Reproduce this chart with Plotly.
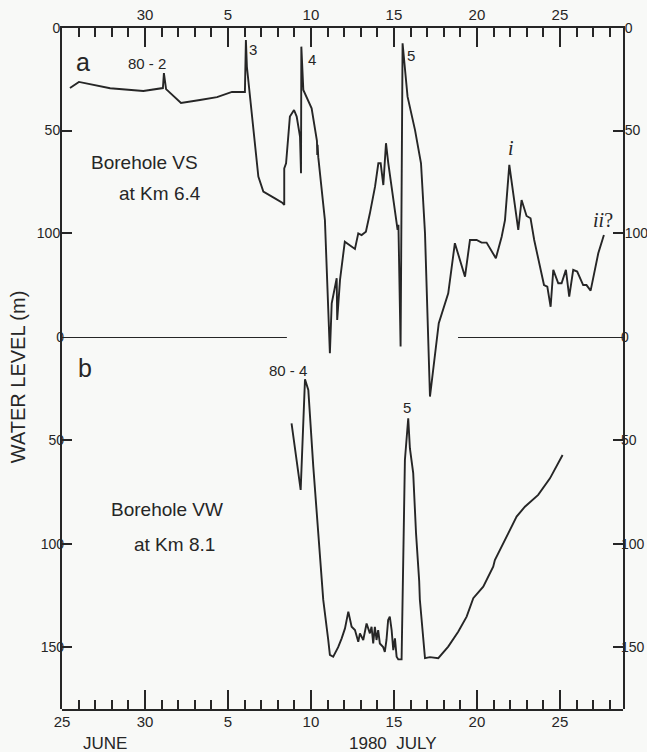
import plotly.graph_objects as go

# Time axis: days after 00h 25 June 1980
# Borehole VS (km 6.4) water level below surface, m
vs_day = [0.48, 1.02, 2.9, 4.9, 6.08, 6.14, 6.27, 7.17, 8.31, 9.34, 10.24, 11.02,
          11.08, 11.14, 11.83, 12.13, 12.83, 13.27, 13.39, 13.39, 13.5, 13.73, 13.98,
          14.14, 14.34, 14.4, 14.42, 14.54, 15.04, 15.24, 15.36, 15.38, 15.40, 15.44,
          15.84, 16.14, 16.25, 16.55, 16.58, 16.75, 17.04, 17.65, 17.85, 18.05, 18.31,
          18.55, 18.86, 19.06, 19.2, 19.36, 19.52, 19.66, 20.16, 20.22, 20.27, 20.32,
          20.38, 20.40, 20.52, 20.82, 21.27, 21.63, 21.87, 22.17, 22.7, 23.07, 23.27,
          23.67, 24.28, 24.58, 24.98, 25.28, 25.58, 26.14, 26.49, 26.69, 26.95, 27.49,
          27.69, 27.99, 28.23, 28.45, 28.8, 29.04, 29.24, 29.44, 29.6, 29.9, 30.1,
          30.36, 30.56, 30.8, 31.04, 31.4, 31.6, 31.85, 32.31, 32.65]
vs_level = [29.3, 26.3, 29.4, 30.7, 29.3, 22.0, 29.8, 36.6, 35.1, 33.7, 31.2, 31.2,
            5.9, 18.9, 72.5, 79.8, 83.1, 85.2, 86.3, 68.5, 66.0, 43.2, 40.0,
            43.2, 53.0, 70.9, 9.1, 30.2, 39.2, 49.8, 55.0, 62.0, 57.0, 63.0,
            93.7, 158.7, 134.3, 122.1, 142.4, 122.9, 104.2, 107.8, 100.2, 101.0, 99.4,
            90.4, 77.4, 66.0, 66.0, 76.6, 56.2, 66.0, 95.3, 98.5, 96.0, 124.5,
            142.4, 155.4, 7.5, 33.5, 49.8, 66.0, 100.0, 179.8, 144.0, 134.3, 129.4,
            105.0, 121.3, 103.4, 103.4, 104.7, 104.7, 112.3, 101.8, 93.7, 66.8, 98.5,
            83.9, 91.7, 92.8, 103.4, 116.4, 125.4, 126.2, 136.0, 118.0, 124.5, 124.5,
            118.0, 131.0, 118.0, 118.8, 125.4, 125.4, 128.1, 109.9, 101.0]

# Borehole VW (km 8.1) water level below surface, m
vw_day = [13.83, 14.38, 14.64, 14.84, 15.14, 15.54, 15.74, 16.04, 16.14, 16.34, 16.64,
          16.85, 17.05, 17.25, 17.45, 17.65, 17.85, 17.95, 18.15, 18.35, 18.55, 18.65,
          18.75, 18.85, 18.95, 19.05, 19.15, 19.35, 19.45, 19.55, 19.65, 19.75, 19.86,
          19.96, 20.06, 20.16, 20.26, 20.46, 20.66, 20.86, 20.96, 21.16, 21.33, 21.52,
          21.56, 21.87, 22.17, 22.67, 23.27, 23.87, 24.38, 24.78, 25.38, 25.98, 26.08,
          27.39, 27.89, 28.69, 29.4, 30.16]
vw_level = [41.8, 74.0, 20.5, 25.6, 62.7, 107.9, 127.2, 146.6, 153.8, 154.7, 150.1,
            145.8, 141.0, 132.9, 140.2, 141.8, 147.5, 143.4, 146.6, 138.6, 143.4, 140.2,
            148.3, 140.2, 146.6, 141.8, 148.3, 150.0, 152.4, 146.6, 136.9, 135.3, 141.8,
            151.5, 145.8, 154.7, 156.0, 156.0, 59.5, 39.3, 53.8, 65.9, 95.0, 118.0,
            127.0, 155.4, 154.9, 155.4, 149.8, 142.6, 135.3, 126.4, 120.8, 111.1, 107.9,
            86.9, 82.1, 76.4, 68.4, 57.1]

# Date ticks
major_days = [0, 5, 10, 15, 20, 25, 30]
major_labels = ["25", "30", "5", "10", "15", "20", "25"]
x_range = [0, 33.8]

# Water-level ticks for each panel
vs_ticks = [0, 50, 100]
vw_ticks = [0, 50, 100, 150]
vs_range = [332.2, 0]
vw_range = [180, 0]

INK = "#262626"
BG = "#f8f9f7"
SANS = "Liberation Sans, Arial, sans-serif"
XTICK_FONT = dict(family=SANS, size=15, color=INK)
YTICK_FONT = dict(family=SANS, size=14, color=INK)

fig = go.Figure()
fig.add_trace(go.Scatter(x=vs_day, y=vs_level, mode="lines", xaxis="x", yaxis="y",
                         line=dict(color=INK, width=1.9), hoverinfo="skip", showlegend=False))
fig.add_trace(go.Scatter(x=vw_day, y=vw_level, mode="lines", xaxis="x", yaxis="y2",
                         line=dict(color=INK, width=1.9), hoverinfo="skip", showlegend=False))

xcommon = dict(range=x_range, showgrid=False, zeroline=False, showline=True,
               linecolor=INK, linewidth=2, ticks="inside", ticklen=19, tickwidth=2,
               tickcolor=INK, tickfont=XTICK_FONT, automargin=False,
               minor=dict(dtick=1, tick0=0, ticks="inside", ticklen=9, tickwidth=1.6,
                          tickcolor=INK, showgrid=False))

ycommon = dict(showgrid=False, zeroline=False, ticks="inside", ticklen=10, tickwidth=2,
               tickcolor=INK, tickfont=YTICK_FONT, linecolor=INK, linewidth=2,
               automargin=False, ticklabelstandoff=-3)

fig.update_layout(
    width=647, height=752,
    margin=dict(l=62, r=24, t=28, b=43, autoexpand=False),
    paper_bgcolor=BG, plot_bgcolor="rgba(0,0,0,0)",
    showlegend=False,
    xaxis=dict(**xcommon, side="bottom", tickvals=major_days, ticktext=major_labels,
               anchor="y2", ticklabelstandoff=-2),
    xaxis2=dict(**xcommon, side="top", overlaying="x", anchor="y",
                tickvals=major_days[1:], ticktext=major_labels[1:]),
    yaxis=dict(**ycommon, domain=[0, 1], range=vs_range, tickvals=vs_ticks,
               showline=True, side="left", anchor="x"),
    yaxis3=dict(**ycommon, overlaying="y", range=vs_range, tickvals=vs_ticks,
                showline=True, side="right", anchor="x"),
    yaxis2=dict(**ycommon, domain=[0, 372 / 681], range=vw_range, tickvals=vw_ticks,
                showline=False, side="left", anchor="x"),
    yaxis4=dict(**ycommon, overlaying="y2", range=vw_range, tickvals=vw_ticks,
                showline=False, side="right", anchor="x"),
)

# empty traces so the overlaid axes are rendered
fig.add_trace(go.Scatter(x=[None], y=[None], xaxis="x2", yaxis="y3", showlegend=False))
fig.add_trace(go.Scatter(x=[None], y=[None], xaxis="x", yaxis="y4", showlegend=False))

# panel divider at VW level 0, broken where the VS trace passes through
for x0, x1 in [(0, 13.55), (23.86, 33.8)]:
    fig.add_shape(type="line", xref="x", yref="y2", x0=x0, x1=x1, y0=0, y1=0,
                  line=dict(color=INK, width=1.8))


def label(text, x, y, yref, size=15, family=SANS, xref="x", **kw):
    fig.add_annotation(text=text, x=x, y=y, xref=xref, yref=yref, showarrow=False,
                       xanchor="center", yanchor="middle",
                       font=dict(family=family, size=size, color=INK), **kw)


label("a", 1.27, 16.5, "y", size=25)
label("80 - 2", 5.12, 17.1, "y")
label("3", 11.5, 10.7, "y")
label("4", 15.06, 15.6, "y")
label("5", 21.02, 13.2, "y")
label("<i>i</i>", 27.05, 58.5, "y", size=20, family="Liberation Serif, serif")
label("<i>ii</i>?", 32.6, 93.7, "y", size=20, family="Liberation Serif, serif")
label("Borehole VS", 5.0, 65.4, "y", size=19)
label("at Km 6.4", 5.9, 80.5, "y", size=19)

label("b", 1.39, 15.0, "y2", size=25)
label("80 - 4", 13.6, 16.0, "y2")
label("5", 20.8, 33.9, "y2")
label("Borehole VW", 6.3, 83.7, "y2", size=19)
label("at Km 8.1", 6.8, 100.6, "y2", size=19)

label("JUNE", 2.6, -0.05, "paper", size=17)
label("1980  JULY", 19.94, -0.05, "paper", size=17)
label("WATER LEVEL (m)", -0.078, 0.4875, "paper", size=20, xref="paper", textangle=-90)

fig.write_html("out.html")
